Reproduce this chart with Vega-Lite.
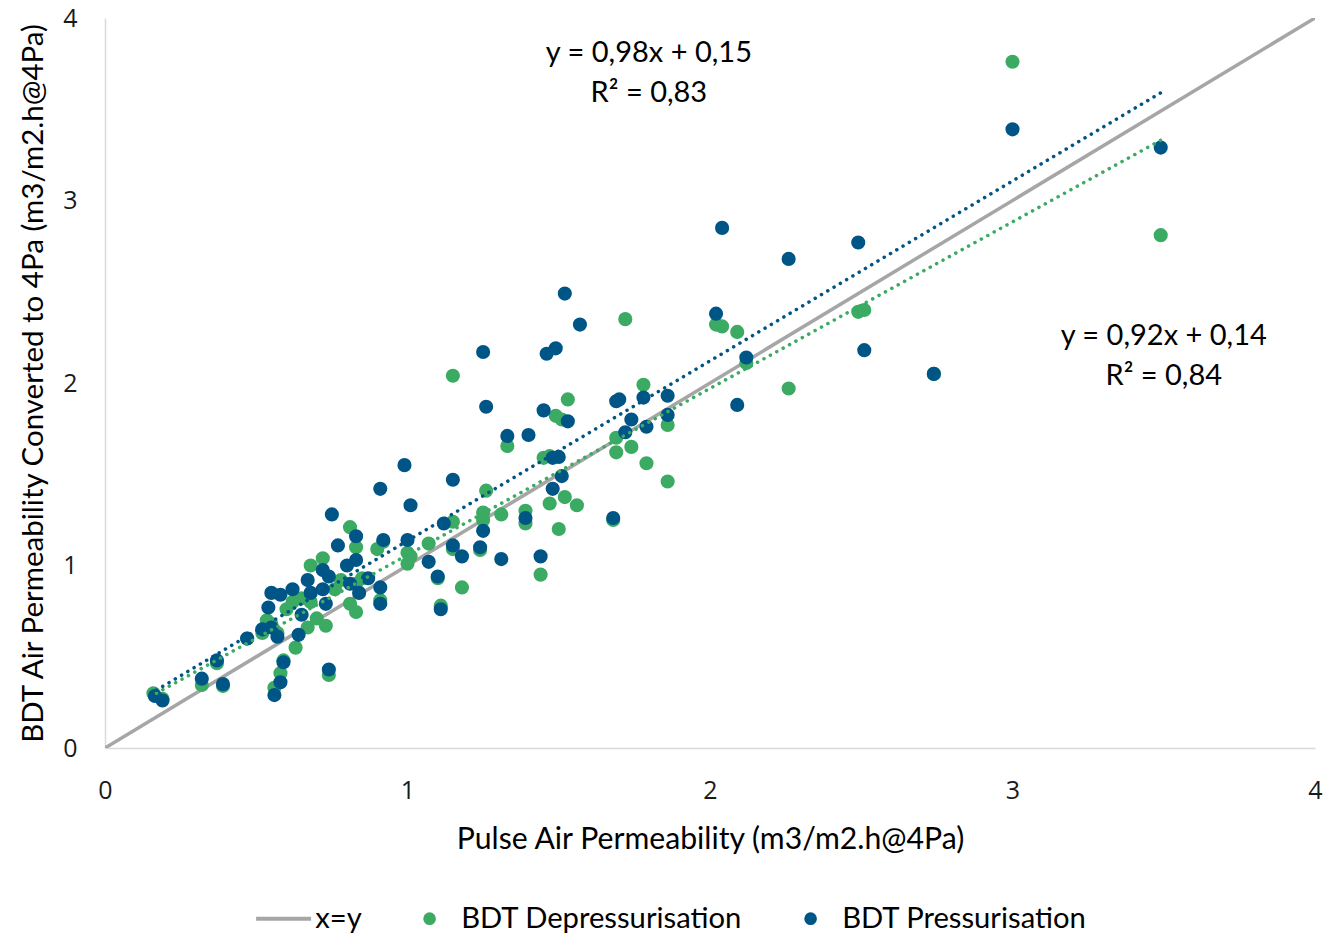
{
  "$schema": "https://vega.github.io/schema/vega-lite/v6.json",
  "width": 1210,
  "height": 730,
  "autosize": "none",
  "padding": {"left": 105, "top": 18, "right": 26, "bottom": 185},
  "background": "white",
  "datasets": {
    "points": [
      {"series": "BDT Depressurisation", "x": 0.16, "y": 0.30},
      {"series": "BDT Depressurisation", "x": 0.19, "y": 0.27},
      {"series": "BDT Depressurisation", "x": 0.32, "y": 0.345},
      {"series": "BDT Depressurisation", "x": 0.37, "y": 0.465},
      {"series": "BDT Depressurisation", "x": 0.39, "y": 0.34},
      {"series": "BDT Depressurisation", "x": 0.47, "y": 0.60},
      {"series": "BDT Depressurisation", "x": 0.52, "y": 0.63},
      {"series": "BDT Depressurisation", "x": 0.535, "y": 0.70},
      {"series": "BDT Depressurisation", "x": 0.55, "y": 0.68},
      {"series": "BDT Depressurisation", "x": 0.56, "y": 0.33},
      {"series": "BDT Depressurisation", "x": 0.58, "y": 0.41},
      {"series": "BDT Depressurisation", "x": 0.59, "y": 0.48},
      {"series": "BDT Depressurisation", "x": 0.57, "y": 0.63},
      {"series": "BDT Depressurisation", "x": 0.60, "y": 0.76},
      {"series": "BDT Depressurisation", "x": 0.63, "y": 0.55},
      {"series": "BDT Depressurisation", "x": 0.62, "y": 0.80},
      {"series": "BDT Depressurisation", "x": 0.65, "y": 0.82},
      {"series": "BDT Depressurisation", "x": 0.68, "y": 1.00},
      {"series": "BDT Depressurisation", "x": 0.67, "y": 0.66},
      {"series": "BDT Depressurisation", "x": 0.70, "y": 0.71},
      {"series": "BDT Depressurisation", "x": 0.72, "y": 1.04},
      {"series": "BDT Depressurisation", "x": 0.73, "y": 0.67},
      {"series": "BDT Depressurisation", "x": 0.74, "y": 0.40},
      {"series": "BDT Depressurisation", "x": 0.68, "y": 0.80},
      {"series": "BDT Depressurisation", "x": 0.76, "y": 0.87},
      {"series": "BDT Depressurisation", "x": 0.78, "y": 0.92},
      {"series": "BDT Depressurisation", "x": 0.81, "y": 1.21},
      {"series": "BDT Depressurisation", "x": 0.81, "y": 0.79},
      {"series": "BDT Depressurisation", "x": 0.83, "y": 0.745},
      {"series": "BDT Depressurisation", "x": 0.83, "y": 1.10},
      {"series": "BDT Depressurisation", "x": 0.83, "y": 0.90},
      {"series": "BDT Depressurisation", "x": 0.85, "y": 0.93},
      {"series": "BDT Depressurisation", "x": 0.91, "y": 0.81},
      {"series": "BDT Depressurisation", "x": 0.92, "y": 1.13},
      {"series": "BDT Depressurisation", "x": 0.90, "y": 1.09},
      {"series": "BDT Depressurisation", "x": 1.00, "y": 1.07},
      {"series": "BDT Depressurisation", "x": 1.01, "y": 1.05},
      {"series": "BDT Depressurisation", "x": 1.00, "y": 1.01},
      {"series": "BDT Depressurisation", "x": 1.07, "y": 1.12},
      {"series": "BDT Depressurisation", "x": 1.11, "y": 0.78},
      {"series": "BDT Depressurisation", "x": 1.10, "y": 0.93},
      {"series": "BDT Depressurisation", "x": 1.15, "y": 1.24},
      {"series": "BDT Depressurisation", "x": 1.15, "y": 2.04},
      {"series": "BDT Depressurisation", "x": 1.18, "y": 0.88},
      {"series": "BDT Depressurisation", "x": 1.15, "y": 1.09},
      {"series": "BDT Depressurisation", "x": 1.24, "y": 1.085},
      {"series": "BDT Depressurisation", "x": 1.25, "y": 1.29},
      {"series": "BDT Depressurisation", "x": 1.25, "y": 1.25},
      {"series": "BDT Depressurisation", "x": 1.26, "y": 1.41},
      {"series": "BDT Depressurisation", "x": 1.31, "y": 1.28},
      {"series": "BDT Depressurisation", "x": 1.33, "y": 1.655},
      {"series": "BDT Depressurisation", "x": 1.39, "y": 1.30},
      {"series": "BDT Depressurisation", "x": 1.39, "y": 1.23},
      {"series": "BDT Depressurisation", "x": 1.44, "y": 0.95},
      {"series": "BDT Depressurisation", "x": 1.45, "y": 1.59},
      {"series": "BDT Depressurisation", "x": 1.47, "y": 1.34},
      {"series": "BDT Depressurisation", "x": 1.47, "y": 1.60},
      {"series": "BDT Depressurisation", "x": 1.50, "y": 1.20},
      {"series": "BDT Depressurisation", "x": 1.52, "y": 1.375},
      {"series": "BDT Depressurisation", "x": 1.56, "y": 1.33},
      {"series": "BDT Depressurisation", "x": 1.49, "y": 1.82},
      {"series": "BDT Depressurisation", "x": 1.51, "y": 1.80},
      {"series": "BDT Depressurisation", "x": 1.53, "y": 1.91},
      {"series": "BDT Depressurisation", "x": 1.68, "y": 1.25},
      {"series": "BDT Depressurisation", "x": 1.69, "y": 1.62},
      {"series": "BDT Depressurisation", "x": 1.69, "y": 1.70},
      {"series": "BDT Depressurisation", "x": 1.72, "y": 2.35},
      {"series": "BDT Depressurisation", "x": 1.74, "y": 1.65},
      {"series": "BDT Depressurisation", "x": 1.78, "y": 1.99},
      {"series": "BDT Depressurisation", "x": 1.79, "y": 1.56},
      {"series": "BDT Depressurisation", "x": 1.86, "y": 1.77},
      {"series": "BDT Depressurisation", "x": 1.86, "y": 1.46},
      {"series": "BDT Depressurisation", "x": 2.02, "y": 2.32},
      {"series": "BDT Depressurisation", "x": 2.04, "y": 2.31},
      {"series": "BDT Depressurisation", "x": 2.09, "y": 2.28},
      {"series": "BDT Depressurisation", "x": 2.12, "y": 2.11},
      {"series": "BDT Depressurisation", "x": 2.26, "y": 1.97},
      {"series": "BDT Depressurisation", "x": 2.49, "y": 2.39},
      {"series": "BDT Depressurisation", "x": 2.51, "y": 2.40},
      {"series": "BDT Depressurisation", "x": 2.74, "y": 2.05},
      {"series": "BDT Depressurisation", "x": 3.00, "y": 3.76},
      {"series": "BDT Depressurisation", "x": 3.49, "y": 2.81},
      {"series": "BDT Pressurisation", "x": 0.165, "y": 0.285},
      {"series": "BDT Pressurisation", "x": 0.19, "y": 0.26},
      {"series": "BDT Pressurisation", "x": 0.32, "y": 0.38},
      {"series": "BDT Pressurisation", "x": 0.37, "y": 0.48},
      {"series": "BDT Pressurisation", "x": 0.39, "y": 0.35},
      {"series": "BDT Pressurisation", "x": 0.47, "y": 0.60},
      {"series": "BDT Pressurisation", "x": 0.52, "y": 0.65},
      {"series": "BDT Pressurisation", "x": 0.54, "y": 0.77},
      {"series": "BDT Pressurisation", "x": 0.55, "y": 0.85},
      {"series": "BDT Pressurisation", "x": 0.55, "y": 0.66},
      {"series": "BDT Pressurisation", "x": 0.57, "y": 0.61},
      {"series": "BDT Pressurisation", "x": 0.56, "y": 0.29},
      {"series": "BDT Pressurisation", "x": 0.58, "y": 0.36},
      {"series": "BDT Pressurisation", "x": 0.59, "y": 0.47},
      {"series": "BDT Pressurisation", "x": 0.58, "y": 0.84},
      {"series": "BDT Pressurisation", "x": 0.62, "y": 0.87},
      {"series": "BDT Pressurisation", "x": 0.64, "y": 0.62},
      {"series": "BDT Pressurisation", "x": 0.65, "y": 0.73},
      {"series": "BDT Pressurisation", "x": 0.67, "y": 0.92},
      {"series": "BDT Pressurisation", "x": 0.68, "y": 0.85},
      {"series": "BDT Pressurisation", "x": 0.72, "y": 0.87},
      {"series": "BDT Pressurisation", "x": 0.73, "y": 0.79},
      {"series": "BDT Pressurisation", "x": 0.72, "y": 0.975},
      {"series": "BDT Pressurisation", "x": 0.74, "y": 0.94},
      {"series": "BDT Pressurisation", "x": 0.74, "y": 0.43},
      {"series": "BDT Pressurisation", "x": 0.75, "y": 1.28},
      {"series": "BDT Pressurisation", "x": 0.77, "y": 1.11},
      {"series": "BDT Pressurisation", "x": 0.80, "y": 1.00},
      {"series": "BDT Pressurisation", "x": 0.81, "y": 0.90},
      {"series": "BDT Pressurisation", "x": 0.83, "y": 1.03},
      {"series": "BDT Pressurisation", "x": 0.83, "y": 1.16},
      {"series": "BDT Pressurisation", "x": 0.84, "y": 0.85},
      {"series": "BDT Pressurisation", "x": 0.87, "y": 0.93},
      {"series": "BDT Pressurisation", "x": 0.91, "y": 1.42},
      {"series": "BDT Pressurisation", "x": 0.92, "y": 1.14},
      {"series": "BDT Pressurisation", "x": 0.91, "y": 0.88},
      {"series": "BDT Pressurisation", "x": 0.91, "y": 0.79},
      {"series": "BDT Pressurisation", "x": 0.99, "y": 1.55},
      {"series": "BDT Pressurisation", "x": 1.01, "y": 1.33},
      {"series": "BDT Pressurisation", "x": 1.00, "y": 1.14},
      {"series": "BDT Pressurisation", "x": 1.07, "y": 1.02},
      {"series": "BDT Pressurisation", "x": 1.10, "y": 0.94},
      {"series": "BDT Pressurisation", "x": 1.11, "y": 0.76},
      {"series": "BDT Pressurisation", "x": 1.12, "y": 1.23},
      {"series": "BDT Pressurisation", "x": 1.15, "y": 1.47},
      {"series": "BDT Pressurisation", "x": 1.15, "y": 1.11},
      {"series": "BDT Pressurisation", "x": 1.18, "y": 1.05},
      {"series": "BDT Pressurisation", "x": 1.24, "y": 1.10},
      {"series": "BDT Pressurisation", "x": 1.25, "y": 1.19},
      {"series": "BDT Pressurisation", "x": 1.25, "y": 2.17},
      {"series": "BDT Pressurisation", "x": 1.26, "y": 1.87},
      {"series": "BDT Pressurisation", "x": 1.31, "y": 1.035},
      {"series": "BDT Pressurisation", "x": 1.33, "y": 1.71},
      {"series": "BDT Pressurisation", "x": 1.39, "y": 1.26},
      {"series": "BDT Pressurisation", "x": 1.40, "y": 1.715},
      {"series": "BDT Pressurisation", "x": 1.44, "y": 1.05},
      {"series": "BDT Pressurisation", "x": 1.45, "y": 1.85},
      {"series": "BDT Pressurisation", "x": 1.46, "y": 2.16},
      {"series": "BDT Pressurisation", "x": 1.49, "y": 2.19},
      {"series": "BDT Pressurisation", "x": 1.48, "y": 1.59},
      {"series": "BDT Pressurisation", "x": 1.50, "y": 1.595},
      {"series": "BDT Pressurisation", "x": 1.51, "y": 1.49},
      {"series": "BDT Pressurisation", "x": 1.48, "y": 1.42},
      {"series": "BDT Pressurisation", "x": 1.52, "y": 2.49},
      {"series": "BDT Pressurisation", "x": 1.53, "y": 1.79},
      {"series": "BDT Pressurisation", "x": 1.57, "y": 2.32},
      {"series": "BDT Pressurisation", "x": 1.68, "y": 1.26},
      {"series": "BDT Pressurisation", "x": 1.69, "y": 1.90},
      {"series": "BDT Pressurisation", "x": 1.70, "y": 1.91},
      {"series": "BDT Pressurisation", "x": 1.72, "y": 1.73},
      {"series": "BDT Pressurisation", "x": 1.74, "y": 1.80},
      {"series": "BDT Pressurisation", "x": 1.78, "y": 1.92},
      {"series": "BDT Pressurisation", "x": 1.79, "y": 1.76},
      {"series": "BDT Pressurisation", "x": 1.86, "y": 1.93},
      {"series": "BDT Pressurisation", "x": 1.86, "y": 1.825},
      {"series": "BDT Pressurisation", "x": 2.02, "y": 2.38},
      {"series": "BDT Pressurisation", "x": 2.04, "y": 2.85},
      {"series": "BDT Pressurisation", "x": 2.09, "y": 1.88},
      {"series": "BDT Pressurisation", "x": 2.12, "y": 2.14},
      {"series": "BDT Pressurisation", "x": 2.26, "y": 2.68},
      {"series": "BDT Pressurisation", "x": 2.49, "y": 2.77},
      {"series": "BDT Pressurisation", "x": 2.51, "y": 2.18},
      {"series": "BDT Pressurisation", "x": 2.74, "y": 2.05},
      {"series": "BDT Pressurisation", "x": 3.00, "y": 3.39},
      {"series": "BDT Pressurisation", "x": 3.49, "y": 3.29}
    ],
    "identity": [
      {"series": "x=y", "x": 0, "y": 0},
      {"series": "x=y", "x": 4, "y": 4}
    ],
    "trends": [
      {"series": "BDT Depressurisation", "x": 0.17, "y": 0.30},
      {"series": "BDT Depressurisation", "x": 3.49, "y": 3.33},
      {"series": "BDT Pressurisation", "x": 0.17, "y": 0.317},
      {"series": "BDT Pressurisation", "x": 3.49, "y": 3.59}
    ],
    "labels": [
      {"x": 1.798, "y": 3.81, "text": "y = 0,98x + 0,15"},
      {"x": 1.798, "y": 3.59, "text": "R² = 0,83"},
      {"x": 3.50, "y": 2.26, "text": "y = 0,92x + 0,14"},
      {"x": 3.50, "y": 2.04, "text": "R² = 0,84"}
    ]
  },
  "encoding": {
    "x": {
      "field": "x",
      "type": "quantitative",
      "scale": {"domain": [0, 4], "nice": false, "zero": true},
      "axis": {
        "title": "Pulse Air Permeability (m3/m2.h@4Pa)",
        "values": [0, 1, 2, 3, 4],
        "labelPadding": 30,
        "titlePadding": 21,
        "titleFontSize": 30.2
      }
    },
    "y": {
      "field": "y",
      "type": "quantitative",
      "scale": {"domain": [0, 4], "nice": false, "zero": true},
      "axis": {
        "title": "BDT Air Permeability Converted to 4Pa (m3/m2.h@4Pa)",
        "values": [0, 1, 2, 3, 4],
        "labelPadding": 28,
        "titlePadding": 14,
        "titleFontSize": 29.5
      }
    },
    "color": {
      "field": "series",
      "type": "nominal",
      "scale": {
        "domain": ["x=y", "BDT Depressurisation", "BDT Pressurisation"],
        "range": ["#A6A6A6", "#3BAA63", "#005587"]
      },
      "legend": {
        "orient": "none",
        "legendX": 164,
        "legendY": 886,
        "direction": "horizontal",
        "title": null,
        "labelFont": "Lato",
        "labelFontSize": 29.2,
        "labelColor": "#000000",
        "labelLimit": 0,
        "labelOffset": 17,
        "columnPadding": 53,
        "symbolSize": 3025,
        "symbolType": "circle",
        "values": ["x=y", "BDT Depressurisation", "BDT Pressurisation"],
        "encode": {
          "symbols": {
            "update": {
              "shape": {"signal": "datum.value === 'x=y' ? 'stroke' : 'circle'"},
              "size": {"signal": "datum.value === 'x=y' ? 3025 : 160"},
              "strokeWidth": {"signal": "datum.value === 'x=y' ? 4 : 0"},
              "fill": {"scale": "color", "field": "value"},
              "stroke": {"scale": "color", "field": "value"},
              "opacity": {"value": 1},
              "fillOpacity": {"value": 1},
              "strokeOpacity": {"value": 1}
            }
          }
        }
      }
    }
  },
  "layer": [
    {
      "data": {"name": "identity"},
      "mark": {"type": "line", "strokeWidth": 3.5, "clip": true}
    },
    {
      "data": {"name": "points"},
      "mark": {"type": "circle", "size": 200, "opacity": 1}
    },
    {
      "data": {"name": "trends"},
      "mark": {"type": "line", "strokeWidth": 3.5, "strokeDash": [0.1, 7.2], "strokeCap": "round"}
    },
    {
      "data": {"name": "labels"},
      "mark": {"type": "text", "font": "Lato", "fontSize": 29, "align": "center", "baseline": "middle"},
      "encoding": {
        "color": {"value": "#000000"},
        "text": {"field": "text", "type": "nominal"}
      }
    }
  ],
  "config": {
    "view": {"stroke": null},
    "axis": {
      "grid": false,
      "ticks": false,
      "labelFlush": false,
      "domainColor": "#D9D9D9",
      "domainWidth": 1.5,
      "labelFont": "Open Sans",
      "labelFontSize": 25,
      "labelColor": "#1a1a1a",
      "titleFont": "Lato",
      "titleFontWeight": "normal",
      "titleColor": "#000000"
    }
  }
}
